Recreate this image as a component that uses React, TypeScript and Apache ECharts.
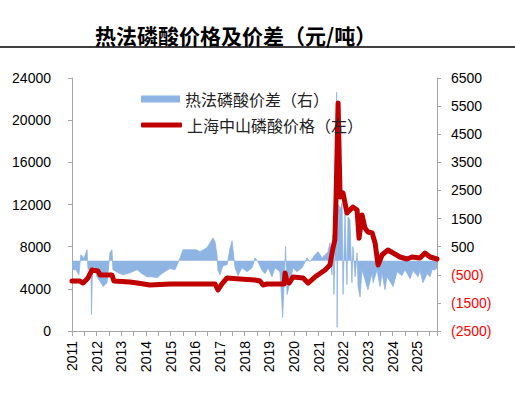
import React, { useEffect, useRef } from "react";
import * as echarts from "echarts";

const TITLE = "热法磷酸价格及价差（元/吨）";
const SPREAD_NAME = "热法磷酸价差（右）";
const PRICE_NAME = "上海中山磷酸价格（左）";

// Shanghai Zhongshan phosphoric acid price (left axis), decimal years
const priceYears = [
  2011.0, 2011.32, 2011.45, 2011.65, 2011.81, 2012.05, 2012.14, 2012.62, 2012.7, 2013.35,
  2013.64, 2014.16, 2014.97, 2016.8, 2016.92, 2017.08, 2017.29, 2017.81, 2018.42, 2018.62,
  2018.75, 2018.91, 2019.52, 2019.6, 2019.64, 2019.72, 2019.81, 2019.96, 2020.37, 2020.57,
  2020.85, 2021.26, 2021.46, 2021.58, 2021.66, 2021.71, 2021.79, 2021.87, 2021.99, 2022.07,
  2022.15, 2022.39, 2022.56, 2022.64, 2022.76, 2022.88, 2023.0, 2023.17, 2023.29, 2023.41,
  2023.57, 2023.81, 2024.02, 2024.3, 2024.58, 2024.79, 2025.11, 2025.31, 2025.52, 2025.8,
];
const priceValues = [
  4740, 4740, 4550, 5030, 5790, 5690, 5310, 5310, 4740, 4650,
  4550, 4360, 4460, 4460, 3890, 4460, 5030, 4930, 4840, 4740,
  4360, 4460, 4460, 4460, 5500, 4650, 4550, 5120, 5030, 4550,
  5120, 5790, 6260, 7870, 8630, 12900, 21630, 12710, 13090, 12140,
  11190, 11760, 11480, 8800, 11000, 9770, 9390, 9300, 8350, 6260,
  7210, 7680, 7400, 7020, 6830, 7020, 6920, 7400, 7020, 6830,
];

// Thermal-process phosphoric acid spread (right axis), decimal years
const spreadYears = [
  2011.0, 2011.16, 2011.28, 2011.36, 2011.49, 2011.61, 2011.65, 2011.77, 2011.79, 2011.83,
  2011.93, 2012.01, 2012.14, 2012.26, 2012.42, 2012.54, 2012.62, 2012.66, 2012.87, 2013.07,
  2013.35, 2013.64, 2013.84, 2014.04, 2014.24, 2014.45, 2014.69, 2014.97, 2015.18, 2015.38,
  2015.5, 2015.79, 2016.03, 2016.19, 2016.47, 2016.6, 2016.72, 2016.8, 2016.88, 2016.92,
  2017.0, 2017.12, 2017.29, 2017.41, 2017.49, 2017.53, 2017.61, 2017.73, 2017.89, 2018.1,
  2018.3, 2018.42, 2018.54, 2018.71, 2018.83, 2018.95, 2019.11, 2019.23, 2019.43, 2019.5,
  2019.54, 2019.58, 2019.66, 2019.72, 2019.84, 2019.96, 2020.12, 2020.33, 2020.53, 2020.65,
  2020.85, 2020.98, 2021.14, 2021.26, 2021.38, 2021.46, 2021.54, 2021.58, 2021.62, 2021.67,
  2021.73, 2021.75, 2021.77, 2021.81, 2021.87, 2021.95, 2021.99, 2022.07, 2022.15, 2022.19,
  2022.27, 2022.35, 2022.39, 2022.48, 2022.56, 2022.6, 2022.68, 2022.76, 2022.88, 2023.0,
  2023.17, 2023.21, 2023.37, 2023.49, 2023.57, 2023.69, 2023.77, 2023.9, 2024.02, 2024.18,
  2024.38, 2024.5, 2024.71, 2024.83, 2025.03, 2025.11, 2025.23, 2025.4, 2025.52, 2025.6,
  2025.72, 2025.8,
];
const spreadValues = [
  -320, -320, -500, 210, 100, 390, -320, -250, -1910, -250,
  -210, -570, -740, -920, -780, 280, 390, -320, -430, -500,
  -430, -320, -460, -570, -570, -600, -430, -280, -320, 100,
  390, 390, 390, 320, 460, 640, 810, 670, 210, -350,
  -500, -180, -140, 460, 710, 390, -250, -530, -250, -390,
  -250, 100, -35, -350, -460, -250, -570, -250, -390, -1310,
  -2020, -1240, 500, -1200, -740, -250, -390, -250, 100, -35,
  210, 320, 100, 210, 320, 640, -500, 920, -1200, 670,
  5990, -2370, 390, 1980, 1800, 2050, -1200, 1700, -850, 1560,
  1450, -780, 500, -570, 280, -920, -1280, -320, -670, -1030,
  -430, -780, -320, -920, -430, -1030, -570, -740, -920, -390,
  -530, -320, -640, -350, -570, -350, -780, -460, -570, -320,
  -320, -250,
];

const X_MIN = 2011;
const X_MAX = 2025.8;
const LEFT_MIN = 0;
const LEFT_MAX = 24000;
const LEFT_STEP = 4000;
const RIGHT_MIN = -2500;
const RIGHT_MAX = 6500;
const RIGHT_STEP = 1000;

const AXIS_GRAY = "#A6A6A6";
const LABEL_FONT = "Liberation Sans, Arial, sans-serif";
const CJK_FONT = "'Noto Sans CJK SC', sans-serif";

export default function App() {
  const ref = useRef<HTMLDivElement>(null);

  useEffect(() => {
    if (!ref.current) return;
    const chart = echarts.init(ref.current, undefined, { renderer: "svg" });

    const priceData = priceYears.map((x, i) => [x, priceValues[i]]);
    // right axis is drawn on a scale shifted by RIGHT_MIN so that ticks start at -2500
    const spreadData = spreadYears.map((x, i) => [x, spreadValues[i] - RIGHT_MIN]);

    chart.setOption({
      animation: false,
      backgroundColor: "#FFFFFF",
      title: {
        text: TITLE,
        left: 90,
        top: 19,
        textStyle: {
          fontFamily: CJK_FONT,
          fontSize: 21,
          fontWeight: "bold",
          color: "#000000",
        },
      },
      graphic: [
        {
          type: "line",
          shape: { x1: 0, y1: 47, x2: 515, y2: 47 },
          style: { stroke: "#000000", lineWidth: 1.5 },
        },
      ],
      legend: [
        {
          data: [{ name: SPREAD_NAME, icon: "rect" }],
          left: 136,
          top: 86,
          itemWidth: 39,
          itemHeight: 7,
          selectedMode: false,
          textStyle: { fontFamily: CJK_FONT, fontSize: 16, color: "#222222" },
        },
        {
          data: [{ name: PRICE_NAME, icon: "roundRect" }],
          left: 136,
          top: 112,
          itemWidth: 41,
          itemHeight: 5,
          selectedMode: false,
          textStyle: { fontFamily: CJK_FONT, fontSize: 16, color: "#222222" },
        },
      ],
      grid: { left: 72, right: 78, top: 78, bottom: 64 },
      xAxis: {
        type: "value",
        min: X_MIN,
        max: X_MAX,
        interval: 1,
        splitLine: { show: false },
        axisLine: { show: true, lineStyle: { color: AXIS_GRAY, width: 1 } },
        axisTick: { show: true, length: 5, lineStyle: { color: AXIS_GRAY } },
        minorTick: { show: true, splitNumber: 2, length: 5, lineStyle: { color: AXIS_GRAY } },
        axisLabel: {
          rotate: 90,
          margin: 10,
          fontSize: 14,
          fontFamily: LABEL_FONT,
          color: "#000000",
          showMaxLabel: false,
          formatter: (v: number) => (Math.abs(v - Math.round(v)) < 1e-6 ? String(Math.round(v)) : ""),
        },
      },
      yAxis: [
        {
          type: "value",
          min: LEFT_MIN,
          max: LEFT_MAX,
          interval: LEFT_STEP,
          splitLine: { show: false },
          axisLine: { show: true, lineStyle: { color: AXIS_GRAY } },
          axisTick: { show: true, length: 4, lineStyle: { color: AXIS_GRAY } },
          axisLabel: {
            margin: 21,
            fontSize: 14,
            fontFamily: LABEL_FONT,
            color: "#000000",
            formatter: (v: number) => String(Math.round(v)),
          },
        },
        {
          type: "value",
          position: "right",
          min: 0,
          max: RIGHT_MAX - RIGHT_MIN,
          interval: RIGHT_STEP,
          splitLine: { show: false },
          axisLine: { show: true, lineStyle: { color: AXIS_GRAY } },
          axisTick: { show: true, length: 4, lineStyle: { color: AXIS_GRAY } },
          axisLabel: {
            margin: 14,
            fontSize: 14,
            fontFamily: LABEL_FONT,
            formatter: (v: number) => {
              const r = Math.round(v + RIGHT_MIN);
              return r < 0 ? `(${-r})` : String(r);
            },
            color: (v: any) => (Number(v) + RIGHT_MIN < 0 ? "#FF0000" : "#000000"),
          },
        },
      ],
      series: [
        {
          name: SPREAD_NAME,
          type: "line",
          yAxisIndex: 1,
          data: spreadData,
          showSymbol: false,
          symbol: "none",
          color: "#8EB4E3",
          lineStyle: { width: 0.8, color: "#8EB4E3" },
          areaStyle: { color: "#8EB4E3", opacity: 1, origin: -RIGHT_MIN },
          z: 2,
        },
        {
          name: PRICE_NAME,
          type: "line",
          yAxisIndex: 0,
          data: priceData,
          showSymbol: false,
          symbol: "none",
          color: "#C00000",
          lineStyle: { width: 5, color: "#C00000", cap: "round", join: "round" },
          z: 3,
        },
      ],
    });

    return () => chart.dispose();
  }, []);

  return (
    <div
      ref={ref}
      style={{ position: "fixed", left: 0, top: 0, width: 515, height: 395, background: "#fff" }}
    />
  );
}
